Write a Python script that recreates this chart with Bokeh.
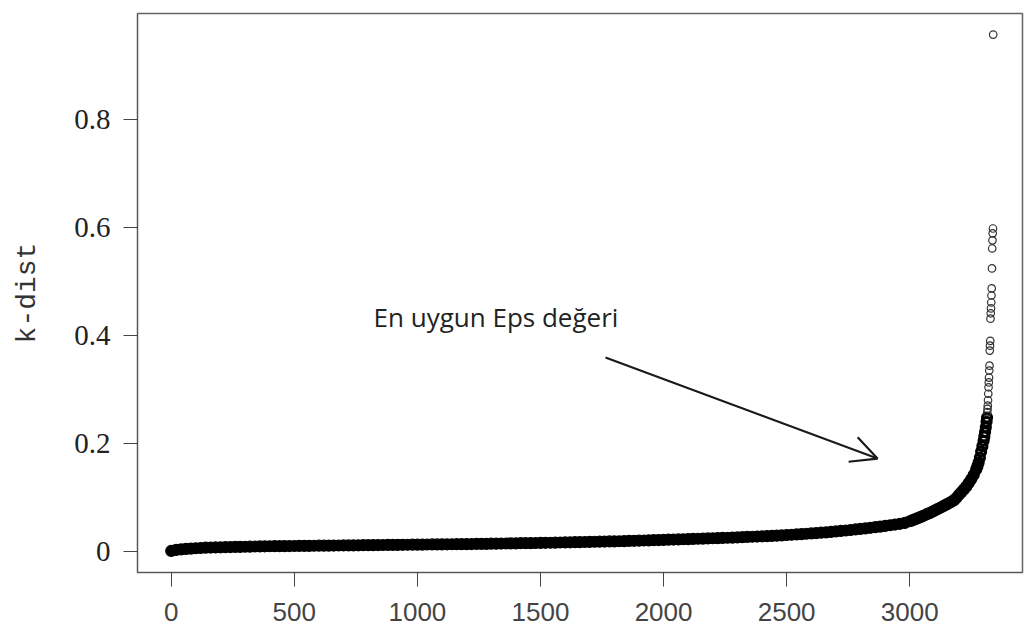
from bokeh.plotting import figure
from bokeh.models import Range1d, Label, Arrow, OpenHead, FixedTicker, ColumnDataSource
from bokeh.embed import file_html
from bokeh.resources import INLINE

# ---- data (sorted k-distances) ----
flat_rank = list(range(0, 3000, 20))
flat_kdist = [
    0.0010, 0.0030, 0.0040, 0.0048, 0.0054,
    0.0060, 0.0065, 0.0070, 0.0073, 0.0076,
    0.0078, 0.0080, 0.0082, 0.0084, 0.0086,
    0.0088, 0.0090, 0.0092, 0.0094, 0.0096,
    0.0097, 0.0098, 0.0099, 0.0100, 0.0101,
    0.0102, 0.0103, 0.0104, 0.0105, 0.0106,
    0.0107, 0.0108, 0.0109, 0.0110, 0.0111,
    0.0112, 0.0113, 0.0114, 0.0115, 0.0116,
    0.0117, 0.0118, 0.0119, 0.0120, 0.0121,
    0.0122, 0.0123, 0.0124, 0.0125, 0.0126,
    0.0127, 0.0128, 0.0129, 0.0130, 0.0131,
    0.0132, 0.0133, 0.0134, 0.0135, 0.0136,
    0.0137, 0.0138, 0.0140, 0.0141, 0.0142,
    0.0144, 0.0145, 0.0147, 0.0148, 0.0150,
    0.0151, 0.0153, 0.0154, 0.0156, 0.0157,
    0.0159, 0.0161, 0.0162, 0.0164, 0.0166,
    0.0168, 0.0170, 0.0172, 0.0174, 0.0176,
    0.0178, 0.0180, 0.0182, 0.0184, 0.0186,
    0.0188, 0.0190, 0.0193, 0.0195, 0.0198,
    0.0200, 0.0203, 0.0206, 0.0209, 0.0212,
    0.0215, 0.0218, 0.0221, 0.0224, 0.0227,
    0.0230, 0.0233, 0.0236, 0.0239, 0.0242,
    0.0245, 0.0248, 0.0251, 0.0254, 0.0257,
    0.0261, 0.0265, 0.0269, 0.0273, 0.0277,
    0.0281, 0.0285, 0.0289, 0.0293, 0.0297,
    0.0305, 0.0310, 0.0316, 0.0322, 0.0328,
    0.0334, 0.0341, 0.0348, 0.0355, 0.0363,
    0.0371, 0.0380, 0.0389, 0.0398, 0.0408,
    0.0418, 0.0428, 0.0439, 0.0450, 0.0461,
    0.0473, 0.0486, 0.0499, 0.0513, 0.0528,
]
knee_rank = [
    3000, 3010, 3020, 3030, 3040, 3050, 3060, 3070, 3080, 3090,
    3100, 3110, 3120, 3130, 3140, 3150, 3160, 3170, 3180, 3190,
    3200, 3210, 3220, 3230, 3240, 3250, 3260, 3270, 3275, 3280,
]
knee_kdist = [
    0.0560, 0.0577, 0.0595, 0.0613, 0.0632, 0.0651, 0.0670, 0.0690, 0.0710, 0.0732,
    0.0755, 0.0778, 0.0800, 0.0824, 0.0848, 0.0873, 0.0898, 0.0924, 0.0950, 0.0995,
    0.1050, 0.1100, 0.1150, 0.1205, 0.1270, 0.1340, 0.1420, 0.1520, 0.1580, 0.1650,
]
steep_rank = [3285, 3290, 3295, 3300, 3303, 3306, 3309, 3312, 3314]
steep_kdist = [0.1740, 0.1850, 0.1950, 0.2050, 0.2130, 0.2210, 0.2300, 0.2400, 0.2480]
tail_rank = list(range(3315, 3340))
tail_kdist = [
    0.258, 0.264, 0.270, 0.280, 0.292, 0.304, 0.313, 0.322, 0.335, 0.344,
    0.372, 0.381, 0.390, 0.431, 0.441, 0.450, 0.461, 0.474, 0.487, 0.524,
    0.561, 0.576, 0.589, 0.598, 0.957,
]
x_ticks = [0, 500, 1000, 1500, 2000, 2500, 3000]
y_ticks = [0, 0.2, 0.4, 0.6, 0.8]
y_tick_labels = {0: "0", 0.2: "0.2", 0.4: "0.4", 0.6: "0.6", 0.8: "0.8"}
annotation_text = "En uygun Eps değeri"
annotation_pos = (822, 0.4333)
arrow_start = (1764, 0.359)
arrow_end = (2869, 0.172)

p = figure(width=1024, height=637, output_backend="svg", toolbar_location=None,
           min_border_left=137, min_border_right=2, min_border_top=13, min_border_bottom=65,
           x_range=Range1d(-137, 3458), y_range=Range1d(-0.0389, 0.996))
p.xgrid.visible = False
p.ygrid.visible = False
p.outline_line_color = "#666666"
p.outline_line_width = 1.5
p.background_fill_color = "white"
p.border_fill_color = "white"

# dense part: thousands of overlapping hollow circles render as a solid band
dense = ColumnDataSource(dict(x=flat_rank + knee_rank, y=flat_kdist + knee_kdist))
steep = ColumnDataSource(dict(x=steep_rank, y=steep_kdist))
tail = ColumnDataSource(dict(x=tail_rank, y=tail_kdist))
p.scatter("x", "y", source=dense, marker="circle", size=11, fill_color="black",
          line_color="black", line_width=1.2)
p.scatter("x", "y", source=steep, marker="circle", size=9, fill_color=None,
          line_color="black", line_width=3.2)
p.scatter("x", "y", source=tail, marker="circle", size=7.5, fill_color=None,
          line_color="#333333", line_width=1.2)

# axes
p.xaxis.ticker = FixedTicker(ticks=x_ticks)
p.xaxis.minor_tick_line_color = None
p.xaxis.major_tick_in = 0
p.xaxis.major_tick_out = 14
p.xaxis.axis_line_color = "#555555"
p.xaxis.major_tick_line_color = "#444444"
p.xaxis.major_label_text_font = "Liberation Sans"
p.xaxis.major_label_text_font_size = "26px"
p.xaxis.major_label_text_color = "#444444"
p.xaxis.major_label_standoff = 16

p.yaxis.ticker = FixedTicker(ticks=y_ticks)
p.yaxis.major_label_overrides = y_tick_labels
p.yaxis.minor_tick_line_color = None
p.yaxis.major_tick_in = 0
p.yaxis.major_tick_out = 14
p.yaxis.axis_line_color = "#555555"
p.yaxis.major_tick_line_color = "#444444"
p.yaxis.major_label_text_font = "Liberation Serif"
p.yaxis.major_label_text_font_size = "29px"
p.yaxis.major_label_text_color = "#222222"
p.yaxis.major_label_standoff = 13
p.yaxis.major_label_orientation = "horizontal"
p.yaxis.axis_label = "k-dist"
p.yaxis.axis_label_text_font = "Liberation Mono"
p.yaxis.axis_label_text_font_size = "28px"
p.yaxis.axis_label_text_font_style = "normal"
p.yaxis.axis_label_text_color = "#333333"
p.yaxis.axis_label_standoff = 28

p.add_layout(Label(x=annotation_pos[0], y=annotation_pos[1], text=annotation_text,
                   text_font="Open Sans", text_font_size="26px", text_color="#222222",
                   text_baseline="alphabetic", text_align="left"))
p.add_layout(Arrow(x_start=arrow_start[0], y_start=arrow_start[1],
                   x_end=arrow_end[0], y_end=arrow_end[1],
                   line_color="#1a1a1a", line_width=2.2,
                   end=OpenHead(size=26, line_width=2.2, line_color="#1a1a1a")))

open("out.html", "w").write(file_html(p, INLINE))
